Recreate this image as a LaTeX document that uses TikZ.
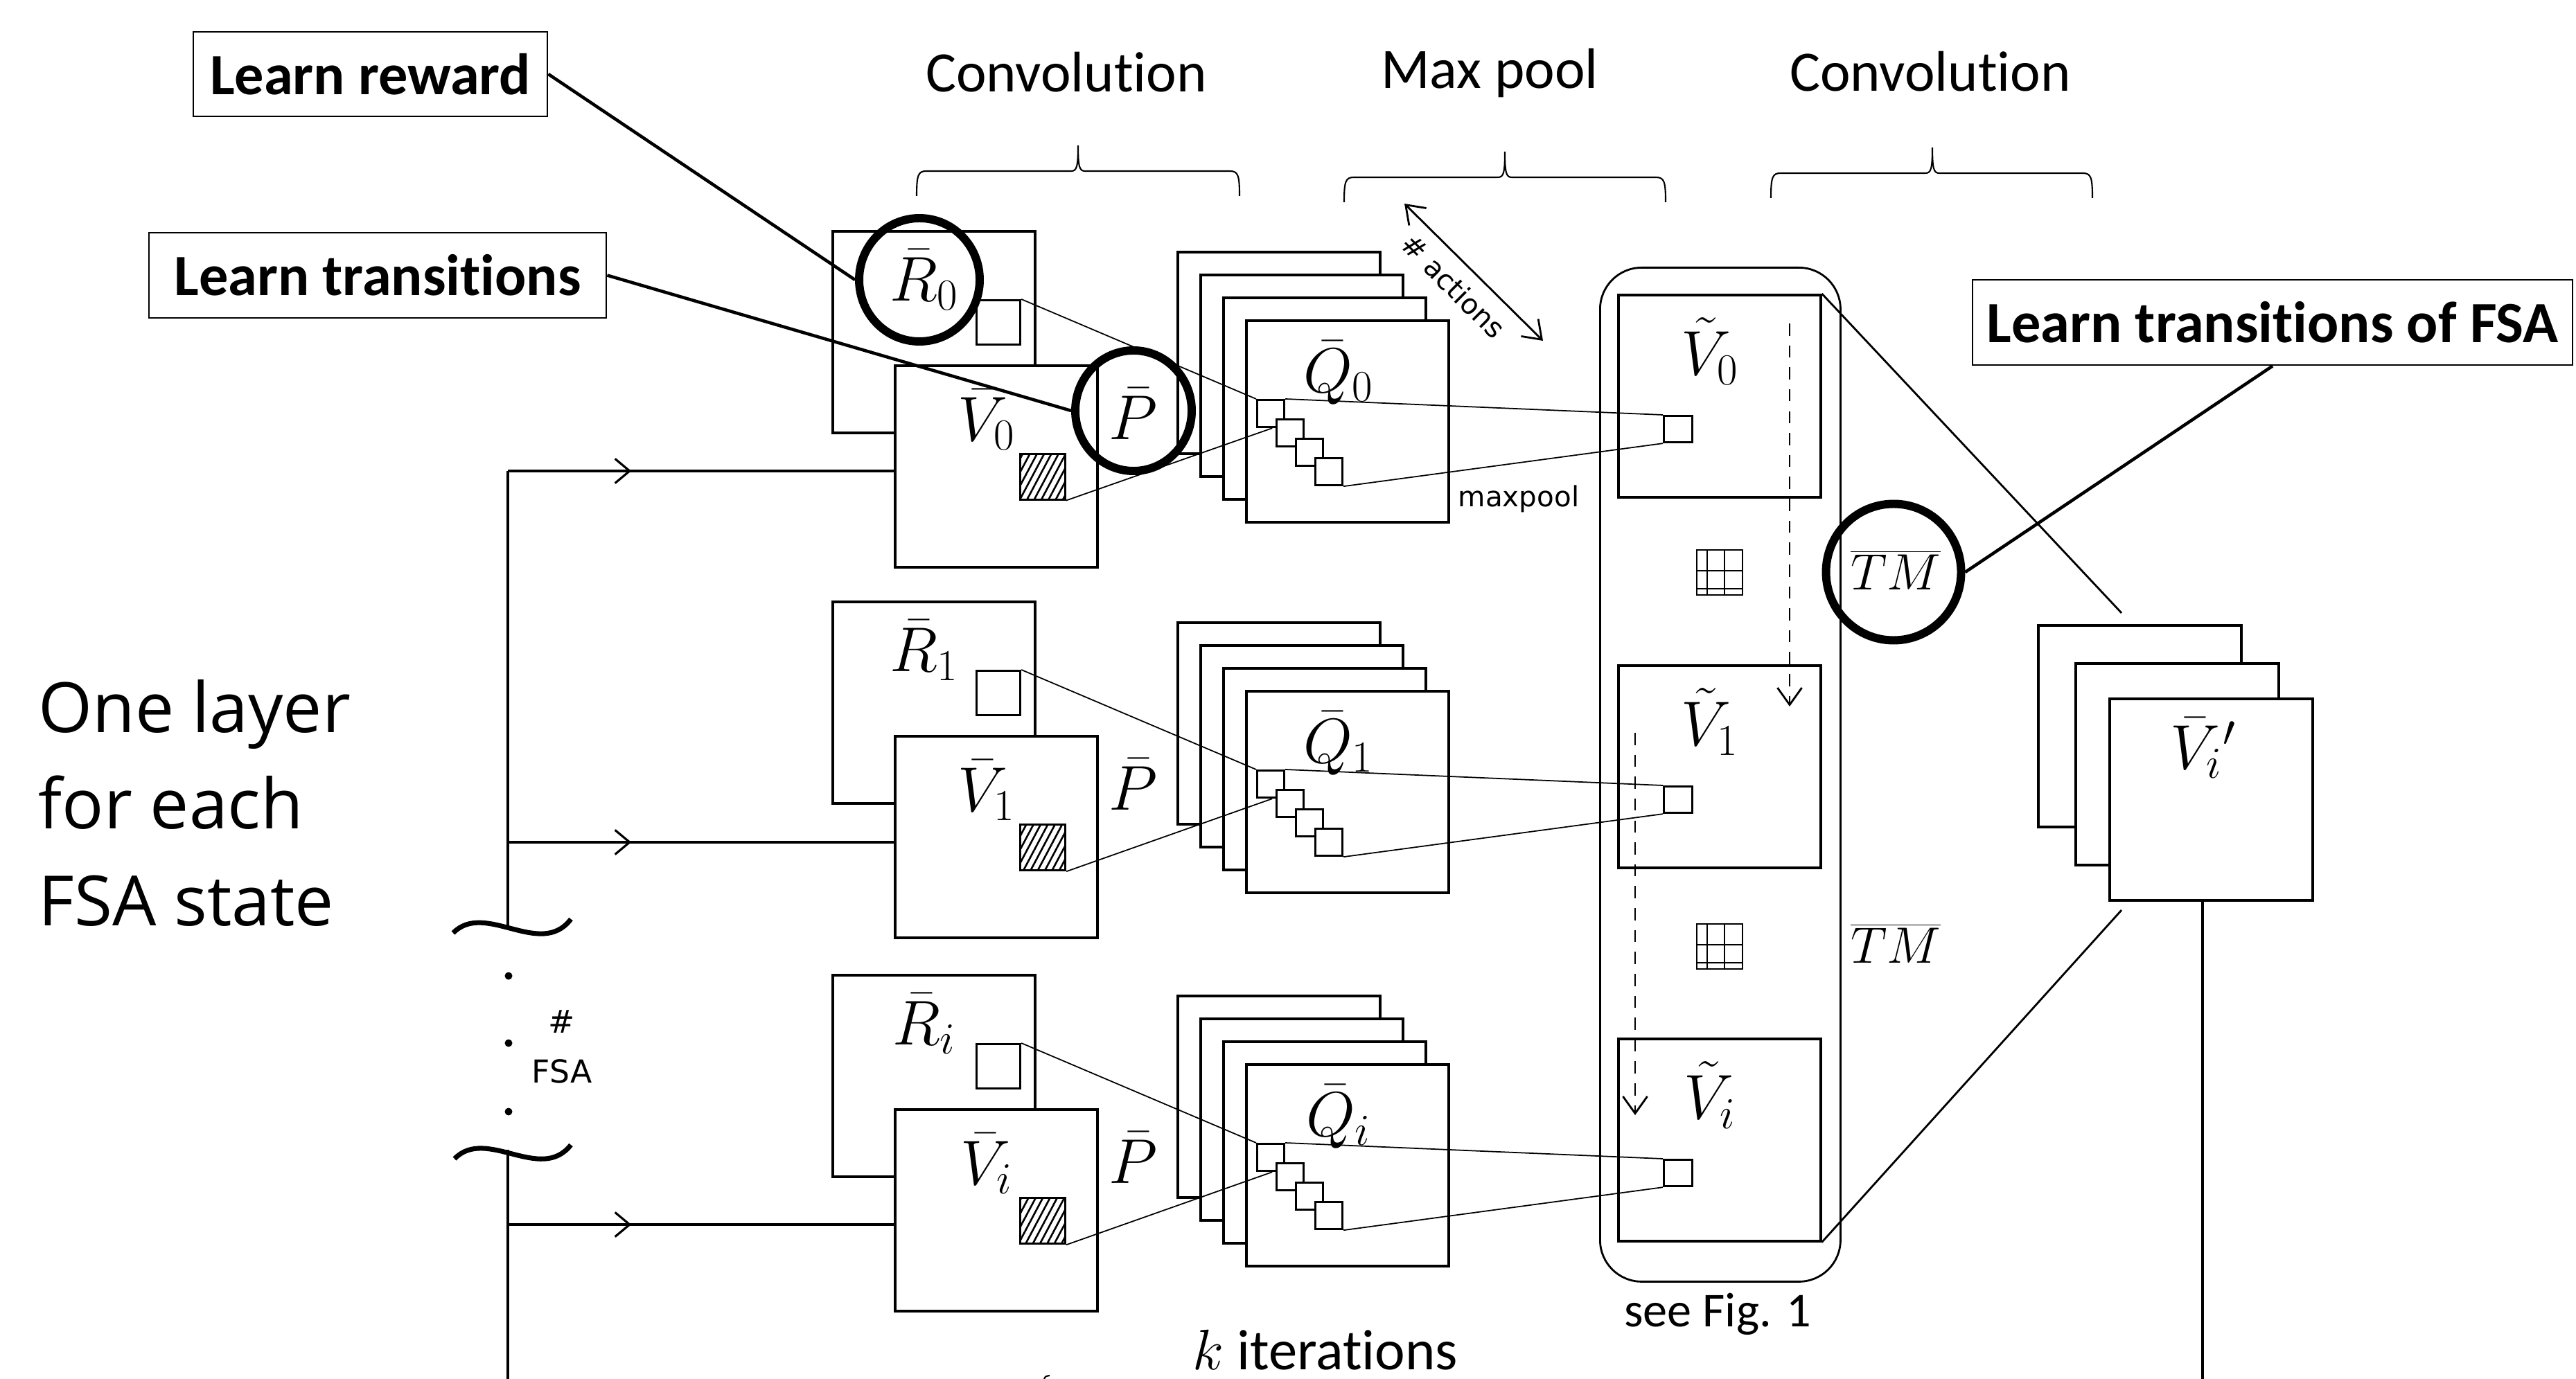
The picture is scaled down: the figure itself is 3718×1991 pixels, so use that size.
\documentclass[tikz,border=0pt]{standalone}
\usepackage{fix-cm}
\usepackage[no-math]{fontspec}
\setmainfont[Ligatures=NoCommon]{Carlito}
\newfontfamily\osans{Open Sans}
\newfontfamily\dvsans{DejaVu Sans}
\usetikzlibrary{arrows.meta,shapes.geometric,decorations.markings,calc,patterns.meta}
\tikzset{
  fbox/.style={draw, fill=white, line width=1pt, anchor=north west, inner sep=0pt, minimum width=29.2mm, minimum height=29.1mm},
  ssq/.style={draw, fill=white, line width=0.9pt, anchor=north west, inner sep=0pt, minimum width=3.9mm, minimum height=3.9mm},
  rsq/.style={draw, fill=white, line width=0.9pt, anchor=north west, inner sep=0pt, minimum width=6.3mm, minimum height=6.4mm},
  hsq/.style={draw, line width=0.9pt, anchor=north west, inner sep=0pt, minimum width=6.5mm, minimum height=6.6mm, pattern={Lines[angle=62,distance=2.6pt,line width=0.75pt]}},
  tsq/.style={draw, fill=white, line width=0.9pt, anchor=north west, inner sep=0pt, minimum width=4.1mm, minimum height=3.8mm},
  thinl/.style={line width=0.5pt},
  zline/.style={line width=0.8pt},
  callline/.style={line width=1.3pt},
  ring/.style={draw, ellipse, line width=3.4pt, inner sep=0pt},
  lab/.style={font=\fontsize{26}{30}\selectfont, inner sep=0pt},
  tmlab/.style={font=\fontsize{21}{25}\selectfont, inner sep=0pt},
  hdr/.style={font=\fontsize{23.5}{28}\selectfont, inner sep=0pt},
  call/.style={draw, line width=0.8pt, font=\bfseries\fontsize{24}{28}\selectfont, inner sep=0pt},
  big/.style={font=\osans\fontsize{28.5}{34}\selectfont, inner sep=0pt},
  small/.style={font=\dvsans\fontsize{11.5}{14}\selectfont, inner sep=0pt},
  feed/.style={line width=1pt, postaction={decorate}, decoration={markings, mark=at position 0.32 with {\arrow{Straight Barb[length=6pt,width=10pt,line width=0.9pt]}}}},
  dasharr/.style={dash pattern=on 5pt off 4pt, line width=0.8pt, -{Straight Barb[length=7pt,width=10pt]}},
  bracel/.style={line width=0.6pt},
  tld/.style={line width=2pt},
  dotn/.style={circle, fill, inner sep=0pt, minimum size=1.1mm}
}
\begin{document}
\begin{tikzpicture}[x=0.1mm,y=-0.1mm]
\fill[white] (0,0) rectangle (3718,1991);
\useasboundingbox (0,0) rectangle (3718,1991);

% headers
\node[hdr, anchor=base] (c1) at (1539,133) {Convolution};
\node[hdr, anchor=base] (mx) at (2150,128) {Max pool};
\node[hdr, anchor=base] (c2) at (2786,132) {Convolution};
% braces
\foreach \xa/\xm/\xb/\yb in {1323/1556/1789/247, 1940/2172/2404/256, 2556/2789/3020/250}{
  \draw[bracel] (\xa,{\yb+36}) .. controls (\xa,{\yb+6}) and ({\xa+2},\yb) .. ({\xa+14},\yb) -- ({\xm-10},\yb)
     .. controls ({\xm-2},\yb) and (\xm,{\yb-6}) .. (\xm,{\yb-37})
     .. controls (\xm,{\yb-6}) and ({\xm+2},\yb) .. ({\xm+10},\yb) -- ({\xb-14},\yb)
     .. controls ({\xb-2},\yb) and (\xb,{\yb+6}) .. (\xb,{\yb+36});
}

% left text
\node[big, anchor=base west] (l1) at (55,1057) {One layer};
\node[big, anchor=base west] (l2) at (55,1196) {for each};
\node[big, anchor=base west] (l3) at (55,1336) {FSA state};

% container
\node[draw, rounded corners=6mm, line width=0.8pt, anchor=north west, inner sep=0pt, minimum width=34.7mm, minimum height=146.4mm] (cont) at (2308,385) {};
\node[font=\fontsize{20}{24}\selectfont, inner sep=0pt, anchor=base] (see) at (2479,1915) {see Fig. 1};

% rows
\foreach \rr/\dd/\ly/\rs in {0/0/680/0,1/535/1216/1,2/1074/1768/i}{
  \node[fbox] (R\rr) at (1200,{332+\dd}) {};
  \node[lab] (Rl\rr) at (1334,{404+\dd}) {$\bar{R}_{\rs}$};
  \node[rsq] (Rs\rr) at (1408,{432+\dd}) {};
  \node[fbox] (V\rr) at (1290,{526+\dd}) {};
  \node[lab] (Vl\rr) at (1424,{606+\dd}) {$\bar{V}_{\rs}$};
  \node[hsq] (H\rr) at (1471,{654+\dd}) {};
  \node[lab] (Pl\rr) at (1636,{597+\dd}) {$\bar{P}$};
  \foreach \k in {0,...,3}{
    \node[fbox] (Q\rr\k) at ({1698+33*\k},{362+33*\k+\dd}) {};
  }
  \node[lab] (Ql\rr) at (1932,{538+\dd}) {$\bar{Q}_{\rs}$};
  \foreach \j in {0,...,3}{
    \node[ssq] (S\rr\j) at ({1813+28*\j},{576+28*\j+\dd}) {};
  }
  \node[fbox, minimum height=29.2mm] (T\rr) at (2334,{424+\dd}) {};
  \node[lab] (Tl\rr) at (2468,{507+\dd}) {$\tilde{V}_{\rs}$};
  \node[tsq] (Ts\rr) at (2400,{599+\dd}) {};
  \draw[thinl] (Rs\rr.north east) -- (S\rr0.north west);
  \draw[thinl] (H\rr.south east) -- ($(S\rr0.south west)!0.55!(S\rr0.south east)$);
  \draw[thinl] (S\rr0.north east) -- (Ts\rr.north west);
  \draw[thinl] (S\rr3.south east) -- (Ts\rr.south west);
  \coordinate (F\rr) at (733,\ly);
  \draw[feed] (F\rr) -- (F\rr -| V\rr.west);
}

% maxpool and # actions
\node[small, anchor=base] (mp) at (2192,732) {maxpool};
\coordinate (aa1) at (2027,294);
\coordinate (aa2) at (2227,492);
\draw[line width=0.8pt, {Straight Barb[length=7pt,width=10pt]}-{Straight Barb[length=7pt,width=10pt]}] (aa1) -- (aa2);
\node[small, rotate=-45] (act) at (2098,413) {\# actions};

% dashed arrows
\coordinate (da1) at (2583,467);
\coordinate (da2) at (2583,1020);
\coordinate (db1) at (2360,1058);
\coordinate (db2) at (2360,1610);
\draw[dasharr] (da1) -- (da2);
\draw[dasharr] (db1) -- (db2);

% grid icons
\foreach \gy in {794,1334}{
  \draw[line width=0.8pt] (2449,\gy) rectangle (2515,{\gy+65});
  \draw[line width=0.5pt] (2464,\gy) -- (2464,{\gy+65}) (2489,\gy) -- (2489,{\gy+65})
     (2449,{\gy+30}) -- (2515,{\gy+30}) (2449,{\gy+56}) -- (2515,{\gy+56});
}

% TM labels
\node[tmlab] (TM1) at (2736,823) {$\overline{TM}$};
\node[tmlab] (TM2) at (2736,1362) {$\overline{TM}$};

% V' stack
\node[fbox, minimum width=29.3mm] (W0) at (2940,901) {};
\node[fbox, minimum width=29.3mm] (W1) at (2994,956) {};
\node[fbox, minimum width=29.3mm] (W2) at (3043,1007) {};
\node[lab] (Wl) at (3180,1080) {$\bar{V}_i{}'$};
\coordinate (zt) at (3062,885);
\coordinate (zb) at (3062,1314);
\draw[zline] (T0.north east) -- (zt);
\draw[zline] (T2.south east) -- (zb);
\coordinate (Wb) at (3179,1991);
\draw[line width=0.9pt] (Wb |- W2.south) -- (Wb);

% left feedback line
\coordinate (fv1) at (733,1336);
\coordinate (fv2) at (733,1660);
\coordinate (fv3) at (733,1991);
\draw[line width=0.9pt] (F0) -- (fv1);
\draw[line width=0.9pt] (fv2) -- (fv3);
\draw[tld] (654,1347) .. controls (700,1300) and (780,1385) .. (824,1327);
\draw[tld] (656,1673) .. controls (702,1626) and (780,1709) .. (824,1653);
\node[dotn] (d1) at (734,1409) {};
\node[dotn] (d2) at (734,1506) {};
\node[dotn] (d3) at (734,1605) {};
\node[small, font=\dvsans\fontsize{13}{20.5}\selectfont, align=center] (fsa) at (811,1511) {\#\\FSA};

% k iterations
\node[hdr, anchor=base] (kit) at (1913,1977) {$k$ iterations};
\draw[line width=0.6pt] (1507,1991) .. controls (1509,1987) .. (1515,1986);

% callouts
\node[call, minimum width=51.1mm, minimum height=12.2mm] (lr) at (534.5,107) {Learn reward};
\node[call, minimum width=66mm, minimum height=12.3mm] (lt) at (545,397.5) {Learn transitions};
\node[call, minimum width=86.6mm, minimum height=12.3mm] (lf) at (3280,465.5) {Learn transitions of FSA};

% rings
\node[ring, minimum width=17.4mm, minimum height=17.8mm] (cR) at (1327,404) {};
\node[ring, minimum width=16.8mm, minimum height=17.4mm] (cP) at (1636,593) {};
\node[ring, minimum width=19.5mm, minimum height=19.7mm] (cT) at (2733,826) {};
\draw[callline] (lr.east) -- (cR.west);
\draw[callline] (lt.east) -- (cP.west);
\draw[callline] (lf.south) -- (cT.east);
\end{tikzpicture}
\end{document}
